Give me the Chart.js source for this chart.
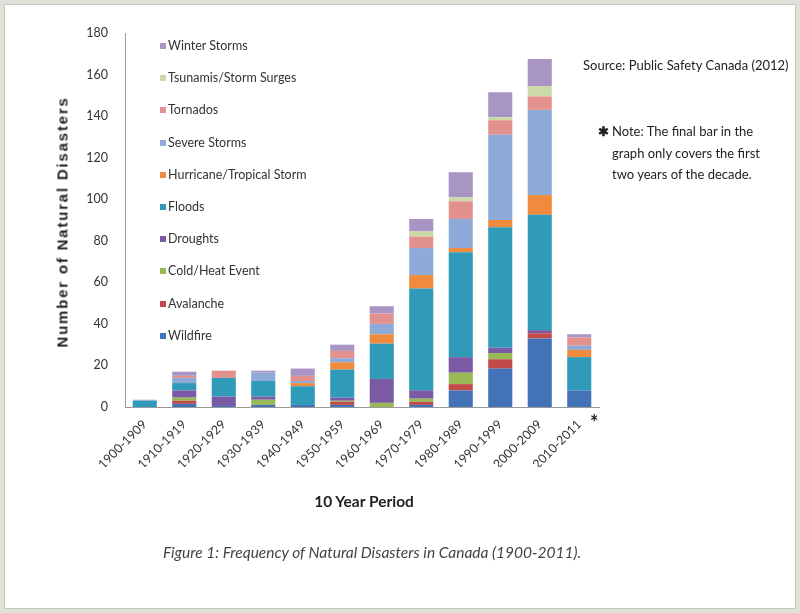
<!DOCTYPE html>
<html>
<head>
<meta charset="utf-8">
<script src="https://cdn.jsdelivr.net/npm/chart.js@4"></script>
<style>
  html, body { margin: 0; padding: 0; }
  body { width: 800px; height: 613px; background: #dfe3da; position: relative; overflow: hidden;
         font-family: Lato, "Open Sans", sans-serif; }
  #panel { position: absolute; left: 4px; top: 4px; width: 790px; height: 603px; background: #fff; border: 1px solid #c4c8bf; }
  #wrap { position: absolute; left: 0; top: 0; width: 800px; height: 613px; }
  .abs { position: absolute; white-space: nowrap; color: #222; }
  #ytitle { left: 62px; top: 222px; transform: translate(-50%, -50%) rotate(-90deg); font-family: "Liberation Sans", Arial, sans-serif; font-weight: bold; font-size: 15px; letter-spacing: 1.8px; color: #222; }
  #xtitle { left: 364px; top: 501px; transform: translate(-50%, -50%); font-weight: bold; font-size: 15.5px; color: #222; }
  #caption { left: 372px; top: 552px; transform: translate(-50%, -50%); font-style: italic; font-size: 15.5px; color: #444; }
  #source { left: 583px; top: 57px; font-size: 13px; color: #222; }
  #note { left: 598px; top: 121px; font-size: 13px; line-height: 21.5px; color: #222; }
  #note .star { display: inline-block; width: 14px; font-weight: bold; }
  #note .ind { padding-left: 14px; }
  #star2 { left: 590px; top: 410px; font-size: 20px; font-weight: bold; color: #222; }
  .leg { position: absolute; left: 160px; font-size: 12.5px; color: #333; height: 16px; line-height: 16px; }
  .leg i { display: inline-block; width: 6px; height: 6px; margin-right: 2px; vertical-align: 1px; }
</style>
</head>
<body>
<div id="panel"></div>
<div id="wrap"><canvas id="c" width="800" height="613"></canvas></div>
<div id="ytitle" class="abs">Number of Natural Disasters</div>
<div id="xtitle" class="abs">10 Year Period</div>
<div id="caption" class="abs">Figure 1: Frequency of Natural Disasters in Canada (1900-2011).</div>
<div id="source" class="abs">Source: Public Safety Canada (2012)</div>
<div id="note" class="abs"><span class="star">&#x2731;</span>Note: The final bar in the<br><span class="ind">graph only covers the first</span><br><span class="ind">two years of the decade.</span></div>
<div id="star2" class="abs">*</div>
<div id="legend"></div>
<script>
const categories = ["1900-1909","1910-1919","1920-1929","1930-1939","1940-1949","1950-1959","1960-1969","1970-1979","1980-1989","1990-1999","2000-2009","2010-2011"];
const yTicks = [0,20,40,60,80,100,120,140,160,180];

const seriesNames = ["Wildfire","Avalanche","Cold/Heat Event","Droughts","Floods","Hurricane/Tropical Storm","Severe Storms","Tornados","Tsunamis/Storm Surges","Winter Storms"];
const wildfire  = [0, 1.5, 0.5, 1, 1, 1, 0, 1, 8, 18.5, 33, 8];
const avalanche = [0, 1.5, 0, 0, 0, 1.5, 0, 1.5, 3, 4.5, 2.5, 0];
const coldHeat  = [0, 1.5, 0, 2.5, 0, 0.5, 2, 1.5, 5.5, 3, 0, 0];
const droughts  = [0, 3.5, 4.5, 1.5, 0, 1.5, 11.5, 4, 7.5, 2.5, 1.5, 0];
const floods    = [3, 3.5, 9, 7.5, 9, 13.5, 17, 49, 50.5, 58, 55.5, 16];
const hurricane = [0, 0, 0, 0, 1.5, 3.5, 4.5, 6.5, 2, 3.5, 9.5, 3.5];
const severe    = [0.5, 2.5, 0, 4, 1, 2, 5, 13, 14, 41, 41, 2];
const tornados  = [0, 1, 3.5, 0, 2.5, 3.5, 5, 5.5, 8.5, 7, 6.5, 4];
const tsunamis  = [0, 0, 0, 0, 0, 0, 0, 2.5, 2, 1.5, 5, 0];
const winter    = [0, 2, 0, 1, 3.5, 3, 3.5, 6, 12, 12, 13, 1.5];

const seriesValues = [wildfire, avalanche, coldHeat, droughts, floods, hurricane, severe, tornados, tsunamis, winter];
const colors = ["#4472b8","#c24a48","#98b955","#7a5aa4","#2f9bb9","#f08a3c","#8eaad8","#e2918f","#cbdaa7","#a895c4"];

const datasets = seriesNames.map((n, i) => ({
  label: n, data: seriesValues[i], backgroundColor: colors[i], borderWidth: 0,
  categoryPercentage: 1.0, barPercentage: 0.61, stack: "s"
}));

const leg = document.getElementById("legend");
seriesNames.slice().reverse().forEach((n, k) => {
  const idx = seriesNames.length - 1 - k;
  const d = document.createElement("div");
  d.className = "leg";
  d.style.top = (38 + k * 32.2) + "px";
  d.innerHTML = '<i style="background:' + colors[idx] + '"></i>' + n;
  leg.appendChild(d);
});

const tickFont = { family: "Lato, 'Open Sans', sans-serif", size: 12.5 };
new Chart(document.getElementById("c"), {
  type: "bar",
  data: { labels: categories, datasets },
  options: {
    responsive: false, animation: false,
    layout: { padding: { left: 85, top: 33, right: 201, bottom: 146 } },
    plugins: { legend: { display: false }, tooltip: { enabled: false } },
    scales: {
      x: {
        stacked: true,
        grid: { display: false },
        border: { display: true, color: "#9a9a9a", width: 1 },
        ticks: { minRotation: 45, maxRotation: 45, autoSkip: false, padding: 2, color: "#333", font: tickFont },
        afterFit: s => { s.height = 60; }
      },
      y: {
        stacked: true, min: 0, max: 180,
        grid: { display: false },
        border: { display: true, color: "#9a9a9a", width: 1 },
        afterBuildTicks: s => { s.ticks = yTicks.map(v => ({ value: v })); },
        ticks: { padding: 9, color: "#333", font: tickFont },
        afterFit: s => { s.width = 40; }
      }
    }
  }
});
</script>
</body>
</html>
